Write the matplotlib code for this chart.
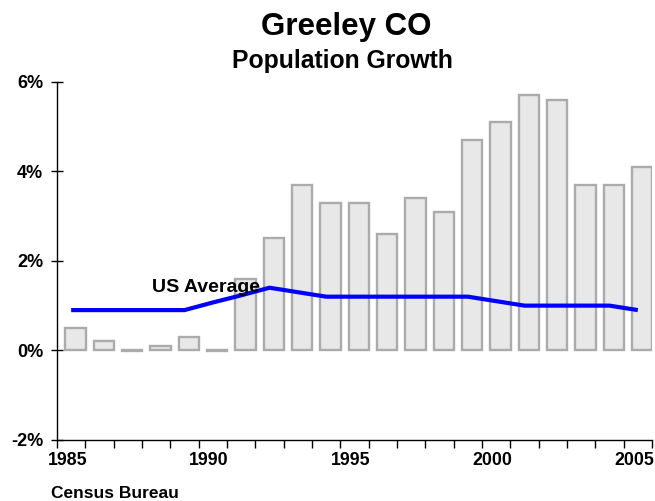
import numpy as np
import matplotlib.pyplot as plt

plt.rcParams['font.family'] = ['Liberation Sans', 'DejaVu Sans']
plt.rcParams['font.weight'] = 'bold'

years = list(range(1985, 2006))
growth = [0.5, 0.2, -0.02, 0.1, 0.3, -0.02, 1.6, 2.5, 3.7, 3.3, 3.3,
          2.6, 3.4, 3.1, 4.7, 5.1, 5.7, 5.6, 3.7, 3.7, 4.1]
us_avg = [0.9, 0.9, 0.9, 0.9, 0.9, 1.07, 1.23, 1.4, 1.3, 1.2, 1.2,
          1.2, 1.2, 1.2, 1.2, 1.1, 1.0, 1.0, 1.0, 1.0, 0.9]
year_labels = ['1985', '1990', '1995', '2000', '2005']

fig = plt.figure(figsize=(6.55, 5.01), dpi=100)
ax = fig.add_axes([0.087, 0.1218, 0.9084, 0.7151])

x = np.arange(len(years))
ax.bar(x + 0.15, growth, width=0.72, color='#e8e8e8', edgecolor='#ababab',
       linewidth=1.7, zorder=2)
ax.plot(x, us_avg, color='#0000ff', linewidth=3, zorder=3,
        solid_capstyle='butt')
ax.text(2.84, 1.31, 'US Average', fontsize=14, fontweight='bold', zorder=4)

ax.set_xlim(-0.5, len(years) - 0.5)
ax.set_ylim(-2, 6)

# category boundaries get tick marks, labels sit near category centres
ax.set_xticks(np.arange(-0.5, len(years), 1.0))
ax.set_xticklabels([])
ax.set_xticks([years.index(int(y)) - 0.14 for y in year_labels], minor=True)
ax.set_xticklabels(year_labels, minor=True, fontsize=12.8, fontweight='bold')
ax.tick_params(axis='x', which='major', direction='out', length=6, width=1)
ax.tick_params(axis='x', which='minor', length=0, pad=9)

ax.set_yticks([-2, 0, 2, 4, 6])
ax.set_yticklabels(['-2%', '0%', '2%', '4%', '6%'], fontsize=13,
                   fontweight='bold')
ax.tick_params(axis='y', direction='inout', length=8, width=1, pad=6)

for s in ['top', 'right']:
    ax.spines[s].set_visible(False)
for s in ['left', 'bottom']:
    ax.spines[s].set_linewidth(1)

fig.text(0.529, 0.93, 'Greeley CO', ha='center', fontsize=22.5,
         fontweight='bold')
fig.text(0.523, 0.865, 'Population Growth', ha='center', fontsize=17.8,
         fontweight='bold')
fig.text(0.078, 0.005, 'Census Bureau', fontsize=12.5, fontweight='bold')

fig.savefig('out.png', dpi=100)
